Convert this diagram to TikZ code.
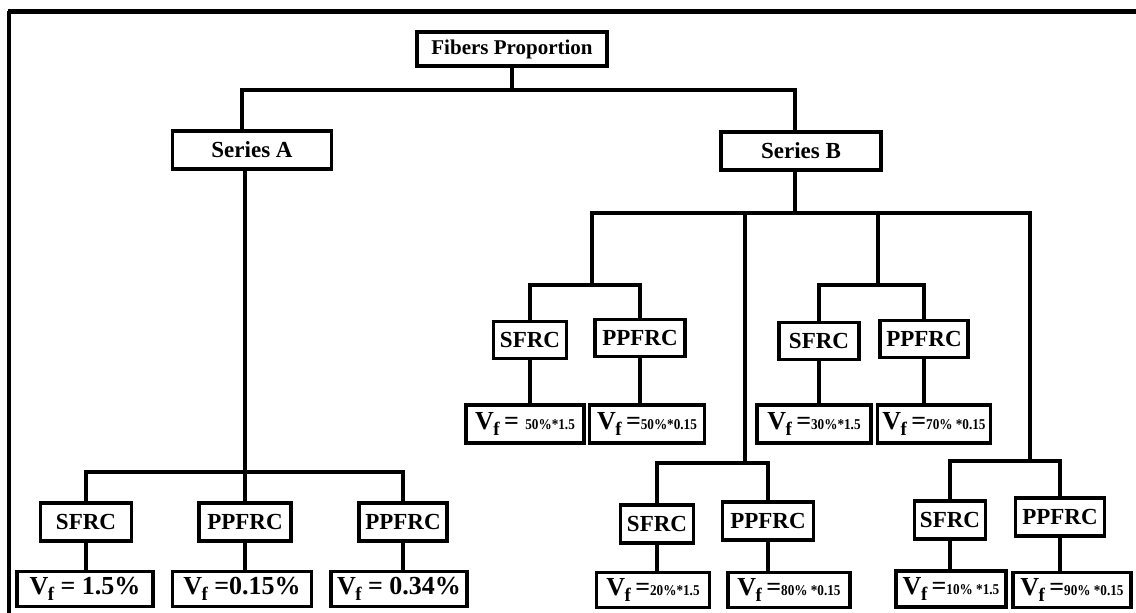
\documentclass[tikz,border=0pt]{standalone}
\usepackage{fontspec}
\setmainfont{Liberation Serif}
\usepackage{tikz}
\usetikzlibrary{positioning}
\usepackage{xcolor}

\newcommand{\Vsub}{V\kern-0.5pt\raisebox{-0.5ex}{\fontsize{19}{19}\selectfont f}}
\newcommand{\vfpart}[1]{\scalebox{0.88}[1]{\fontsize{15}{15}\selectfont #1}}

\tikzset{
  box/.style={draw, line width=3.2pt, fill=white, inner sep=0pt, minimum height=38pt, font=\bfseries\fontsize{23}{23}\selectfont},
  vfbox/.style={box, minimum height=35pt, font=\bfseries\fontsize{26}{26}\selectfont},
  link/.style={line width=4pt},
}

\begin{document}
\begin{tikzpicture}[x=1pt, y=-1pt]
\useasboundingbox (0,0) rectangle (1136,613);
\draw[line width=5pt] (8,11) -- (1136,11);
\draw[line width=3.5pt] (9,11) -- (9,613);

\node[box, minimum width=190pt, minimum height=34pt, font=\bfseries\fontsize{21}{21}\selectfont] (fp) at (512,49) {Fibers Proportion};
\node[box, minimum width=159pt] (sa) at (252,150) {Series A};
\node[box, minimum width=160pt] (sb) at (801,151) {Series B};

\node[box, minimum width=91pt] (aS) at (86,522) {SFRC};
\node[box, minimum width=92pt] (aP1) at (245,522) {PPFRC};
\node[box, minimum width=88pt] (aP2) at (403,522) {PPFRC};
\node[vfbox, minimum width=136pt] (aV1) at (85,589) {\Vsub{} = 1.5\%};
\node[vfbox, minimum width=139pt] (aV2) at (242,589) {\Vsub{} =0.15\%};
\node[vfbox, minimum width=136pt] (aV3) at (399,589) {\Vsub{} = 0.34\%};

\node[box, minimum width=73pt, minimum height=37pt] (bS1) at (530,340) {SFRC};
\node[box, minimum width=90pt, minimum height=37pt] (bP1) at (640,338) {PPFRC};
\node[vfbox, minimum width=118pt, minimum height=38pt] (bV1) at (525,424) {\Vsub\,= \vfpart{50\%*1.5}};
\node[vfbox, minimum width=115pt, minimum height=38pt] (bV2) at (647,424) {\Vsub\,=\vfpart{50\%*0.15}};

\node[box, minimum width=80pt, minimum height=37pt] (bS2) at (819,341) {SFRC};
\node[box, minimum width=88pt, minimum height=37pt] (bP2) at (924,339) {PPFRC};
\node[vfbox, minimum width=114pt, minimum height=38pt] (bV5) at (814,424) {\Vsub\,=\vfpart{30\%*1.5}};
\node[vfbox, minimum width=113pt, minimum height=38pt] (bV6) at (934,424) {\Vsub\,=\vfpart{70\% *0.15}};

\node[box, minimum width=73pt] (bS3) at (657,524) {SFRC};
\node[box, minimum width=91pt] (bP3) at (768,521) {PPFRC};
\node[vfbox, minimum width=113pt] (bV3) at (653,590) {\Vsub\,=\vfpart{20\%*1.5}};
\node[vfbox, minimum width=122pt] (bV4) at (789,590) {\Vsub\,=\vfpart{80\% *0.15}};

\node[box, minimum width=71pt] (bS4) at (950,520) {SFRC};
\node[box, minimum width=89pt] (bP4) at (1060,517) {PPFRC};
\node[vfbox, minimum width=110pt, minimum height=36pt] (bV7) at (951,589) {\Vsub\,=\vfpart{10\% *1.5}};
\node[vfbox, minimum width=118pt] (bV8) at (1072,590) {\Vsub\,=\vfpart{90\% *0.15}};

\coordinate (jT) at (512,90);
\coordinate (jA) at (245,472);
\coordinate (jB) at (795,213);
\coordinate (jB1) at (592,285);
\coordinate (jB2) at (878,285);
\coordinate (jB3) at (745,463);
\coordinate (jB4) at (1030,461);

\draw[link] (fp.south) -- (jT);
\draw[link] ([xshift=-10pt]sa.north) |- (jT) -| ([xshift=-6pt]sb.north);
\draw[link] ([xshift=-7pt]sa.south) -- (jA);
\draw[link] (aS.north) |- (jA) -| (aP2.north);
\draw[link] (jA) -- (aP1.north);

\draw[link] ([xshift=-6pt]sb.south) -- (jB);
\draw[link] (jB1) |- (jB) -| (jB4);
\draw[link] (jB2) -- (jB2 |- jB);
\draw[link] (jB3) -- (jB3 |- jB);
\draw[link] (bS1.north) |- (jB1) -| (bP1.north);
\draw[link] (bS2.north) |- (jB2) -| (bP2.north);
\draw[link] (bS3.north) |- (jB3) -| (bP3.north);
\draw[link] (bS4.north) |- (jB4) -| (bP4.north);

\foreach \up/\dn in {aS/aV1, aP1/aV2, aP2/aV3, bS1/bV1, bP1/bV2, bS2/bV5, bP2/bV6, bS3/bV3, bP3/bV4, bS4/bV7, bP4/bV8}
  \draw[link] (\up.south) -- (\up.south |- \dn.north);
\end{tikzpicture}
\end{document}
